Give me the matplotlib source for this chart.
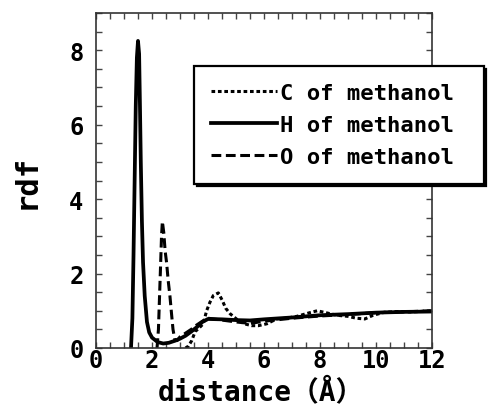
import matplotlib
matplotlib.use("Agg")
import matplotlib.pyplot as plt
from matplotlib.ticker import MultipleLocator

# radial distribution functions
c_dist = [3.20, 3.30, 3.42, 3.54, 3.70, 3.83, 3.95, 4.07, 4.19, 4.37, 4.51, 4.63,
          4.79, 5.08, 5.30, 5.56, 5.80, 6.10, 6.45, 6.80, 7.17, 7.64, 7.90, 8.20,
          8.60, 9.00, 9.30, 9.60, 9.90, 10.3, 10.8, 11.3, 12.0]
c_rdf = [0.00, 0.05, 0.20, 0.44, 0.55, 0.65, 1.00, 1.23, 1.41, 1.48, 1.28, 1.07,
         0.92, 0.74, 0.65, 0.60, 0.60, 0.65, 0.78, 0.80, 0.85, 0.95, 1.00, 0.95,
         0.88, 0.85, 0.80, 0.78, 0.88, 0.96, 0.98, 0.97, 1.00]

h_dist = [1.25, 1.30, 1.34, 1.38, 1.42, 1.46, 1.50, 1.54, 1.57, 1.60, 1.64, 1.68,
          1.74, 1.82, 1.90, 2.00, 2.20, 2.40, 2.60, 2.80, 3.00, 3.20, 3.40, 3.60,
          3.80, 4.00, 4.50, 5.00, 5.50, 6.00, 7.00, 8.00, 9.00, 10.0, 11.0, 12.0]
h_rdf = [0.00, 0.80, 2.50, 4.50, 6.50, 7.80, 8.25, 7.90, 6.50, 5.00, 3.40, 2.30,
         1.40, 0.70, 0.42, 0.28, 0.16, 0.12, 0.14, 0.19, 0.25, 0.33, 0.44, 0.56,
         0.70, 0.78, 0.77, 0.75, 0.74, 0.77, 0.82, 0.88, 0.91, 0.95, 0.97, 0.98]

o_dist = [2.18, 2.23, 2.27, 2.31, 2.34, 2.37, 2.42, 2.47, 2.52, 2.58, 2.64, 2.70,
          2.75, 2.82, 2.90, 3.00, 3.20, 3.40, 3.60, 3.80, 4.00, 4.50, 5.00, 5.50,
          6.00, 7.00, 8.00, 9.00, 10.0, 11.0, 12.0]
o_rdf = [0.00, 0.50, 1.40, 2.30, 3.00, 3.40, 3.10, 2.60, 2.30, 1.80, 1.40, 0.90,
         0.50, 0.20, 0.20, 0.30, 0.40, 0.50, 0.62, 0.72, 0.80, 0.75, 0.70, 0.66,
         0.72, 0.80, 0.86, 0.90, 0.95, 0.97, 1.00]

labels = ["C of methanol", "H of methanol", "O of methanol"]

plt.rcParams['font.family'] = ['DejaVu Sans Mono', 'Noto Sans CJK JP']
plt.rcParams['font.weight'] = 'bold'

fig = plt.figure(figsize=(4.91, 4.06), dpi=100)
ax = fig.add_axes([96/491, 57/406, 336/491, 335/406])

lc, = ax.plot(c_dist, c_rdf, color='k', lw=2.2, linestyle=(0, (1.2, 0.9)),
              label=labels[0])
lh, = ax.plot(h_dist, h_rdf, color='k', lw=2.7, label=labels[1])
lo, = ax.plot(o_dist, o_rdf, color='k', lw=2.2, linestyle=(0, (3.2, 1.5)),
              label=labels[2])

ax.set_xlim(0, 12)
ax.set_ylim(0, 9)
ax.xaxis.set_major_locator(MultipleLocator(2))
ax.xaxis.set_minor_locator(MultipleLocator(0.5))
ax.yaxis.set_major_locator(MultipleLocator(2))
ax.yaxis.set_minor_locator(MultipleLocator(0.5))
ax.tick_params(which='both', direction='in', top=True, right=True,
               length=4, width=1, color='#444444')
ax.tick_params(axis='both', labelsize=17)
ax.tick_params(axis='x', pad=0)
ax.tick_params(axis='y', pad=9)
for s in ax.spines.values():
    s.set_color('#333333')
    s.set_linewidth(1.2)

ax.set_xlabel("distance（Å）", fontsize=20, fontweight='bold')
ax.set_ylabel("rdf", fontsize=22, fontweight='bold')
ax.xaxis.set_label_coords(0.49, -0.085)
ax.yaxis.set_label_coords(-0.165, 0.5)

leg = ax.legend(handles=[lc, lh, lo], labels=[s + " " for s in labels],
                loc='upper left', bbox_to_anchor=(0.292, 0.842),
                borderaxespad=0, fancybox=False, edgecolor='k', framealpha=1,
                shadow={'color': 'k', 'alpha': 1},
                prop={'size': 16, 'weight': 'bold'},
                handlelength=3.0, handletextpad=0.1, borderpad=0.75,
                labelspacing=0.55)
leg.get_frame().set_linewidth(1.6)

fig.savefig("out.png", dpi=100)
